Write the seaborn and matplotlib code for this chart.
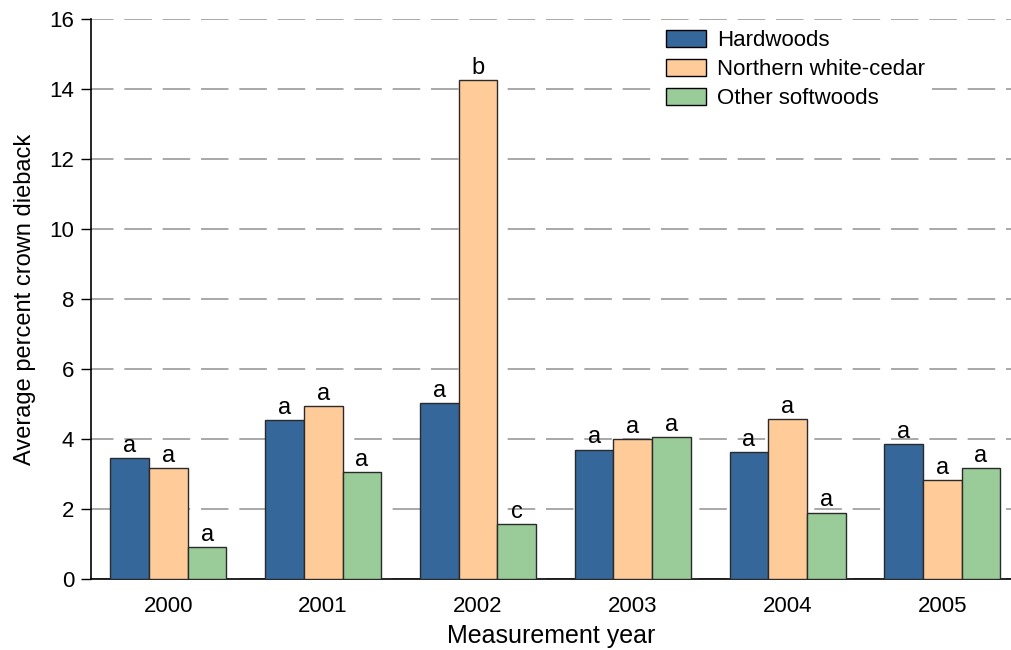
import matplotlib
matplotlib.use("Agg")
import matplotlib.pyplot as plt
import seaborn as sns
import pandas as pd

years = ["2000", "2001", "2002", "2003", "2004", "2005"]
groups = ["Hardwoods", "Northern white-cedar", "Other softwoods"]
hardwoods = [3.46, 4.54, 5.03, 3.69, 3.63, 3.86]
cedar = [3.17, 4.94, 14.26, 4.00, 4.57, 2.83]
softwoods = [0.91, 3.06, 1.57, 4.06, 1.89, 3.17]
letters_hard = ["a", "a", "a", "a", "a", "a"]
letters_cedar = ["a", "a", "b", "a", "a", "a"]
letters_soft = ["a", "a", "c", "a", "a", "a"]
colors = ["#35679A", "#FFCC99", "#99CC99"]
yticks = [0, 2, 4, 6, 8, 10, 12, 14, 16]

rows = []
for g, vals in zip(groups, [hardwoods, cedar, softwoods]):
    for y, v in zip(years, vals):
        rows.append({"year": y, "group": g, "value": v})
df = pd.DataFrame(rows)

sns.set_theme(style="white")
plt.rcParams["font.family"] = ["Liberation Sans", "DejaVu Sans"]
plt.rcParams["text.color"] = "black"
plt.rcParams["axes.labelcolor"] = "black"
plt.rcParams["xtick.color"] = "black"
plt.rcParams["ytick.color"] = "black"

fig = plt.figure(figsize=(10.12, 6.5), dpi=100)
ax = fig.add_axes([91 / 1012, (650 - 579) / 650, (1012 - 91) / 1012, (579 - 19) / 650])

sns.barplot(data=df, x="year", y="value", hue="group", order=years, hue_order=groups,
            palette=colors, width=0.75, gap=0, edgecolor="#2a2a2a", linewidth=1.0,
            saturation=1, errorbar=None, ax=ax, zorder=3)

for cont, labs in zip(ax.containers, [letters_hard, letters_cedar, letters_soft]):
    ax.bar_label(cont, labels=labs, padding=1, fontsize=17, color="black")

ax.set_xlim(-0.5, 5.45)
ax.set_ylim(0, 16)
ax.set_yticks(yticks)
ax.set_yticklabels([str(t) for t in yticks], fontsize=16)
ax.tick_params(axis="y", which="major", direction="out", length=7, width=1, color="black", left=True, pad=5)
ax.tick_params(axis="x", length=0, labelsize=16, pad=12)
ax.set_axisbelow(True)
ax.yaxis.grid(True, color="#9a9a9a", linewidth=1.2, linestyle=(3, (16.5, 6.5)))
ax.xaxis.grid(False)

for s in ["top", "right"]:
    ax.spines[s].set_visible(False)
for s in ["left", "bottom"]:
    ax.spines[s].set_color("black")
    ax.spines[s].set_linewidth(1.2)

ax.set_xlabel("Measurement year", fontsize=18, labelpad=5)
ax.set_ylabel("Average percent crown dieback", fontsize=17, labelpad=10)

leg = ax.legend(loc="upper right", bbox_to_anchor=(0.925, 1.012), fontsize=16, frameon=True,
                facecolor="white", edgecolor="white", framealpha=1, handlelength=1.8,
                handleheight=0.8, handletextpad=0.5, labelspacing=0.35, borderpad=0.3)
leg.get_frame().set_linewidth(0)
for h in leg.legend_handles:
    h.set_edgecolor("black")
    h.set_linewidth(1.0)

fig.savefig("out.png", dpi=100)
